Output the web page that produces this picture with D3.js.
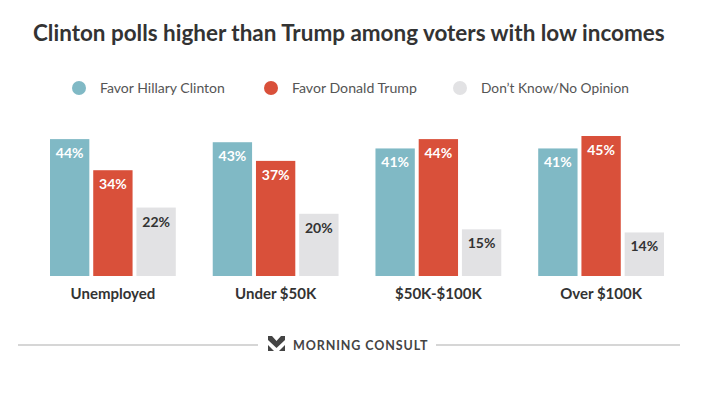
<!DOCTYPE html>
<html lang="en">
<head>
  <meta charset="UTF-8" />
  <title>Clinton polls higher than Trump among voters with low incomes</title>
  <script src="https://d3js.org/d3.v7.min.js"></script>
  <style>
    body { margin: 0; background: #fff; font-family: Lato, "Open Sans", sans-serif; }
    svg { display: block; }
  </style>
</head>
<body>
  <svg width="723" height="398"></svg>

  <script>
    // data
    const categories = ["Unemployed", "Under $50K", "$50K-$100K", "Over $100K"];
    const seriesNames = ["Favor Hillary Clinton", "Favor Donald Trump", "Don\u2019t Know/No Opinion"];
    const clinton = [44, 43, 41, 41];
    const trump = [34, 37, 44, 45];
    const noOpinion = [22, 20, 15, 14];

    const colors = ["#80b9c5", "#d9503a", "#e2e2e4"];
    const labelColors = ["#fff", "#fff", "#333"];

    const svg = d3.select("svg");
    const baseline = 276;

    // fit a text element to a given width by scaling its font size
    function fitWidth(sel, size, width) {
      const w = sel.node().getComputedTextLength();
      sel.attr("font-size", size * width / w);
    }

    // title
    const title = svg.append("text")
      .attr("x", 33).attr("y", 41)
      .attr("font-size", 20).attr("font-weight", 700)
      .attr("fill", "#333")
      .text("Clinton polls higher than Trump among voters with low incomes");
    fitWidth(title, 20, 632);

    // legend
    const legendX = [79, 271, 460];
    const legendW = [125, 125, 148];
    const legend = svg.append("g").selectAll("g")
      .data(seriesNames)
      .join("g")
      .attr("transform", (d, i) => `translate(${legendX[i]},88)`);
    legend.append("circle").attr("r", 7).attr("fill", (d, i) => colors[i]);
    legend.append("text")
      .attr("x", 21).attr("y", 4.5)
      .attr("font-size", 13.5).attr("fill", "#555")
      .text(d => d)
      .each(function (d, i) { fitWidth(d3.select(this), 13.5, legendW[i]); });

    // scales
    const x0 = d3.scaleBand().domain(categories).range([50, 664]).paddingInner(0.227).paddingOuter(0);
    const x1 = d3.scaleBand().domain(d3.range(3)).range([0, x0.bandwidth()]).paddingInner(0.09);
    const y = d3.scaleLinear().domain([0, 45]).range([baseline, baseline - 140]);

    const rows = categories.map((c, i) => ({
      cat: c,
      vals: [clinton[i], trump[i], noOpinion[i]]
    }));

    const groups = svg.append("g").selectAll("g")
      .data(rows)
      .join("g")
      .attr("transform", d => `translate(${x0(d.cat)},0)`);

    groups.selectAll("rect")
      .data(d => d.vals)
      .join("rect")
      .attr("x", (d, i) => x1(i))
      .attr("y", d => y(d))
      .attr("width", x1.bandwidth())
      .attr("height", d => baseline - y(d))
      .attr("fill", (d, i) => colors[i]);

    groups.selectAll("text.val")
      .data(d => d.vals)
      .join("text")
      .attr("class", "val")
      .attr("x", (d, i) => x1(i) + x1.bandwidth() / 2)
      .attr("y", d => y(d) + 19)
      .attr("text-anchor", "middle")
      .attr("font-size", 14).attr("font-weight", 700)
      .attr("fill", (d, i) => labelColors[i])
      .text(d => d + "%");

    groups.append("text")
      .attr("x", x0.bandwidth() / 2)
      .attr("y", 299)
      .attr("text-anchor", "middle")
      .attr("font-size", 15).attr("font-weight", 700)
      .attr("fill", "#333")
      .text(d => d.cat);

    // footer
    svg.append("line").attr("x1", 18).attr("x2", 258).attr("y1", 345).attr("y2", 345)
      .attr("stroke", "#c8c8c8").attr("stroke-width", 1.5);
    svg.append("line").attr("x1", 436).attr("x2", 680).attr("y1", 345).attr("y2", 345)
      .attr("stroke", "#c8c8c8").attr("stroke-width", 1.5);

    const logo = svg.append("g").attr("transform", "translate(268,336)").attr("fill", "#444");
    logo.append("path").attr("d", "M0,0 L4,0 L8.5,5 L13,0 L17,0 L17,4 L8.5,12 L0,4 Z");
    logo.append("path").attr("d", "M0,9 L6,15 L0,15 Z");
    logo.append("path").attr("d", "M17,9 L11,15 L17,15 Z");

    svg.append("text")
      .attr("x", 293).attr("y", 350)
      .attr("font-size", 12.5).attr("font-weight", 700)
      .attr("letter-spacing", 0.9)
      .attr("fill", "#444")
      .text("MORNING CONSULT");
  </script>
</body>
</html>
